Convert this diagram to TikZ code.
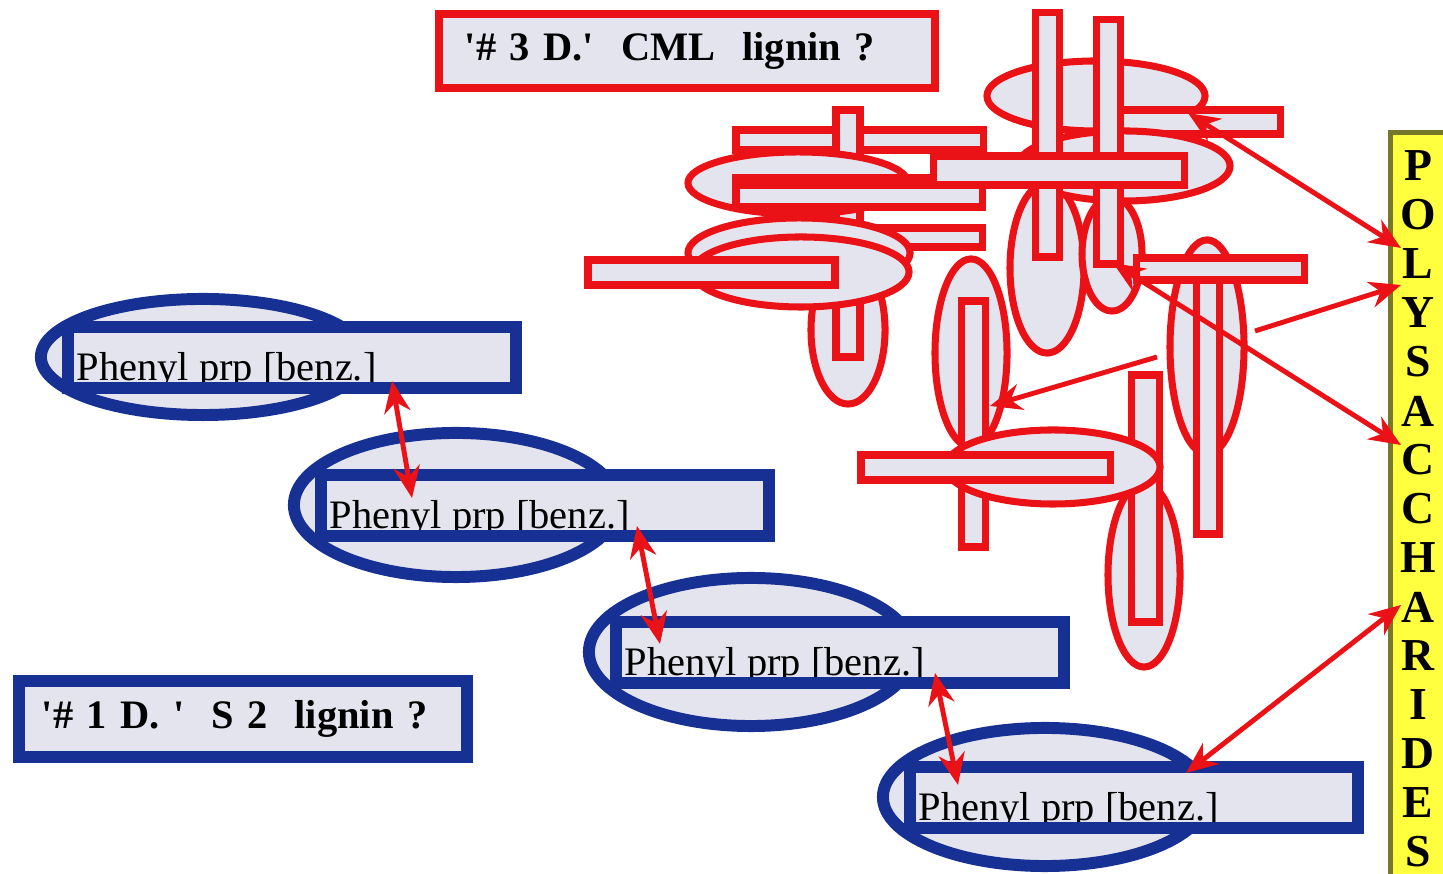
\documentclass[tikz,border=0pt]{standalone}
\usepackage{fontspec}
\setmainfont{Liberation Serif}
\usetikzlibrary{shapes.geometric, arrows.meta}
\definecolor{navy}{RGB}{22,48,148}
\definecolor{redln}{RGB}{234,18,22}
\definecolor{pale}{RGB}{228,228,238}
\definecolor{polyfill}{RGB}{255,255,64}
\definecolor{polyedge}{RGB}{116,120,40}

\begin{document}
\begin{tikzpicture}[
    >={Stealth[length=9pt, width=7.5pt]},
    x=0.01cm, y=-0.01cm,
    ring/.style={ellipse, draw=navy, line width=3.4pt, fill=pale, inner sep=0pt,
                 minimum width=3.24cm},
    bar/.style={rectangle, fill=pale, inner sep=0pt, anchor=north west,
                minimum width=4.46cm, minimum height=0.60cm},
    barline/.style={draw=navy, line width=3.4pt},
    phen/.style={anchor=base west, inner sep=0pt, font=\fontsize{11.5}{13}\selectfont},
    labelbox/.style={rectangle, fill=pale, align=left, inner ysep=0pt,
                     font=\bfseries\fontsize{11.5}{14}\selectfont},
    lump/.style={draw=redln, line width=2pt, fill=pale},
    link/.style={<->, draw=redln, line width=1.4pt},
    push/.style={->, draw=redln, line width=1.4pt},
    polybox/.style={rectangle, draw=polyedge, line width=1.5pt, fill=polyfill,
                    anchor=north west, minimum width=0.8cm, minimum height=7.8cm},
    letter/.style={font=\bfseries\fontsize{13}{14}\selectfont, inner sep=0pt}
]
\clip (0,0) rectangle (1443,874);
\fill[white] (0,0) rectangle (1443,874);

\node[labelbox, draw=redln, line width=2.3pt, minimum width=4.96cm, minimum height=0.74cm,
      text width=4.44cm, inner xsep=0.26cm] (cml) at (687,51)
      {\mbox{\textquotesingle\#~3~D.\textquotesingle~~CML~~lignin~?}};
\node[labelbox, draw=navy, line width=3.4pt, minimum width=4.48cm, minimum height=0.76cm,
      text width=4.02cm, inner xsep=0.23cm] (stwo) at (243,719)
      {\mbox{\textquotesingle\#~1~D.~\textquotesingle~~S~2~~lignin~?}};

\foreach \i/\bx/\by/\ry in {1/62/321/1.16, 2/315/469/1.44, 3/610/616/1.48, 4/904/761/1.38} {
    \node[ring, minimum height=\ry cm] (ring\i) at (\bx+141,\by+36) {};
    \node[bar] (bar\i) at (\bx+6,\by+6) {};
    \node[phen] (txt\i) at (\bx+14,\by+60) {Phenyl prp [benz.]};
    \draw[barline] (bar\i.south west) rectangle (bar\i.north east);
}

\draw[lump] (848,330) ellipse [x radius=0.37cm, y radius=0.74cm];
\draw[lump] (736,130) rectangle (983,150);
\draw[lump] (836,110) rectangle (860,357);
\draw[lump] (798,183) ellipse [x radius=1.10cm, y radius=0.31cm];
\draw[lump] (736,178) rectangle (982,200);
\draw[lump] (736,185) rectangle (982,207);
\draw[lump] (736,228) rectangle (982,247);
\draw[lump] (799,253) ellipse [x radius=1.11cm, y radius=0.35cm];
\draw[lump] (801,272) ellipse [x radius=1.08cm, y radius=0.35cm];
\draw[lump] (588,260) rectangle (835,285);
\draw[lump] (1047,268) ellipse [x radius=0.37cm, y radius=0.85cm];
\draw[lump] (1112,254) ellipse [x radius=0.30cm, y radius=0.57cm];
\draw[lump] (971,353) ellipse [x radius=0.36cm, y radius=0.94cm];
\draw[lump] (961,301) rectangle (985,547);
\draw[lump] (1096,96) ellipse [x radius=1.09cm, y radius=0.35cm];
\draw[lump] (1113,110) rectangle (1280,134);
\draw[lump] (1124,166) ellipse [x radius=1.06cm, y radius=0.35cm];
\draw[lump] (1035,13) rectangle (1059,257);
\draw[lump] (1096,20) rectangle (1120,264);
\draw[lump] (933,156) rectangle (1184,185);
\draw[lump] (1144,575) ellipse [x radius=0.36cm, y radius=0.92cm];
\draw[lump] (1131,375) rectangle (1159,622);
\draw[lump] (1053,467) ellipse [x radius=1.07cm, y radius=0.37cm];
\draw[lump] (861,455) rectangle (1110,480);
\draw[lump] (1207,347) ellipse [x radius=0.37cm, y radius=1.07cm];
\draw[lump] (1196,262) rectangle (1219,534);
\draw[lump] (1136,258) rectangle (1304,280);

\node[polybox] (poly) at (1388,130) {};
\foreach \c [count=\k] in {P,O,L,Y,S,A,C,C,H,A,R,I,D,E,S}
    \node[letter] (ltr\k) at (1418,117+49*\k) {\c};

\coordinate (a1s) at (392,381);  \coordinate (a1e) at (412,498);
\coordinate (a2s) at (637,526);  \coordinate (a2e) at (660,644);
\coordinate (a3s) at (935,673);  \coordinate (a3e) at (958,785);
\coordinate (a4s) at (1186,773); \coordinate (a4e) at (1401,605);
\coordinate (r1s) at (1188,113); \coordinate (r1e) at (1401,248);
\coordinate (r2s) at (1255,331); \coordinate (r2e) at (1401,285);
\coordinate (r3s) at (1113,263); \coordinate (r3e) at (1401,445);
\coordinate (r4s) at (1157,357); \coordinate (r4e) at (990,406);

\draw[link] (a1s) -- (a1e);
\draw[link] (a2s) -- (a2e);
\draw[link] (a3s) -- (a3e);
\draw[link] (a4s) -- (a4e);
\draw[link] (r1s) -- (r1e);
\draw[push] (r2s) -- (r2e);
\draw[link] (r3s) -- (r3e);
\draw[push] (r4s) -- (r4e);
\end{tikzpicture}
\end{document}
